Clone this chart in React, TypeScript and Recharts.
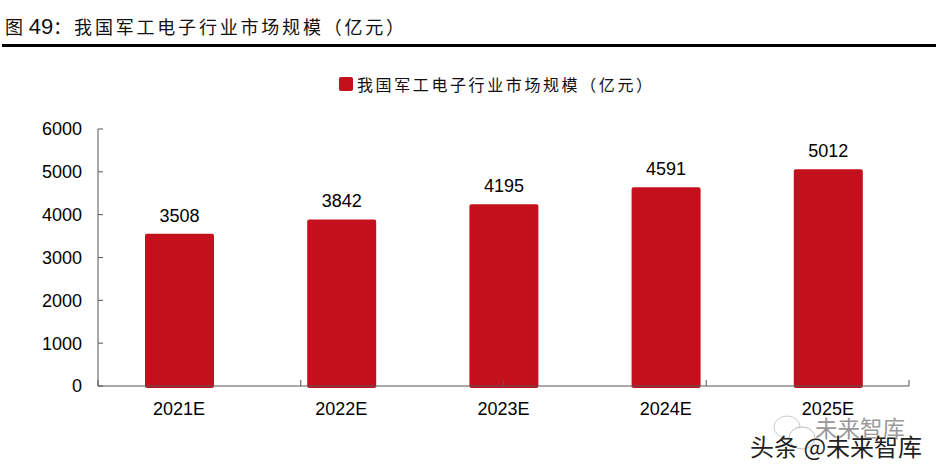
import { Bar, BarChart, LabelList, Legend, XAxis, YAxis } from 'recharts';

const years = ['2021E', '2022E', '2023E', '2024E', '2025E'];
const marketSize = [3508, 3842, 4195, 4591, 5012];
const yTicks = [0, 1000, 2000, 3000, 4000, 5000, 6000];
const edgeTicks = [0, 1, 2, 3, 4, 5];

const seriesName = '我国军工电子行业市场规模（亿元）';
const data = years.map((year, i) => ({ year, value: marketSize[i] }));

const latin = '"Liberation Sans", Arial, sans-serif';
const cjk = '"Noto Sans CJK SC", sans-serif';
const red = '#c4101c';
const axisColor = '#555555';

function LegendRow() {
  return (
    <div style={{ display: 'flex', alignItems: 'center', fontFamily: cjk, fontSize: 16, letterSpacing: 2.6, color: '#111', whiteSpace: 'nowrap' }}>
      <span style={{ width: 14, height: 14, background: red, borderRadius: 2, marginRight: 4 }} />
      {seriesName}
    </div>
  );
}

function NoLabel() {
  return <g />;
}

export default function App() {
  return (
    <div style={{ position: 'absolute', left: 0, top: 0, width: 936, height: 472, background: '#fff', overflow: 'hidden' }}>
      <div style={{ position: 'absolute', left: 5, top: 11, fontFamily: cjk, fontSize: 18, letterSpacing: 2.8, color: '#111', whiteSpace: 'nowrap', lineHeight: '30px' }}>
        图<span style={{ fontFamily: latin, fontSize: 22, letterSpacing: 0, marginLeft: 3 }}>49</span>：{seriesName}
      </div>
      <div style={{ position: 'absolute', left: 2, top: 44, width: 934, height: 3, background: '#000' }} />

      <BarChart
        width={936}
        height={472}
        data={data}
        margin={{ top: 105, right: 27, bottom: 0, left: 0 }}
        style={{ position: 'absolute', left: 0, top: 0 }}
      >
        <XAxis
          xAxisId="edges"
          type="number"
          domain={[0, 5]}
          ticks={edgeTicks}
          tick={NoLabel}
          height={1}
          tickSize={-6}
          stroke={axisColor}
        />
        <XAxis
          dataKey="year"
          xAxisId="years"
          height={85}
          axisLine={false}
          tickLine={false}
          tickMargin={9}
          interval={0}
          tick={{ fontFamily: latin, fontSize: 18, fill: '#000' }}
        />
        <YAxis
          domain={[0, 6000]}
          ticks={yTicks}
          width={98}
          tickSize={-5}
          tickMargin={21}
          stroke={axisColor}
          tick={{ fontFamily: latin, fontSize: 18, fill: '#000' }}
        />
        <Legend
          verticalAlign="top"
          content={<LegendRow />}
          wrapperStyle={{ position: 'absolute', left: 339, top: 72, width: 320 }}
        />
        <Bar
          dataKey="value"
          xAxisId="years"
          name={seriesName}
          fill={red}
          stroke={red}
          strokeWidth={4}
          strokeLinejoin="round"
          barSize={65}
          isAnimationActive={false}
        >
          <LabelList dataKey="value" position="top" offset={14} style={{ fontFamily: latin, fontSize: 18, fill: '#000', stroke: 'none' }} />
        </Bar>
      </BarChart>

      <svg width={60} height={50} style={{ position: 'absolute', left: 765, top: 412 }}>
        <ellipse cx={22} cy={15} rx={13} ry={11} fill="#fff" stroke="#ccc" />
        <ellipse cx={37} cy={26} rx={13} ry={11} fill="#fff" stroke="#bbb" />
      </svg>
      <div style={{ position: 'absolute', left: 815, top: 412, fontFamily: cjk, fontSize: 22.5, color: '#999', whiteSpace: 'nowrap', lineHeight: '30px' }}>
        未来智库
      </div>
      <div style={{ position: 'absolute', left: 750, top: 431, fontFamily: cjk, fontSize: 24, color: '#222', whiteSpace: 'nowrap', lineHeight: '30px', textShadow: '0 0 2px #fff' }}>
        头条 @未来智库
      </div>
    </div>
  );
}
